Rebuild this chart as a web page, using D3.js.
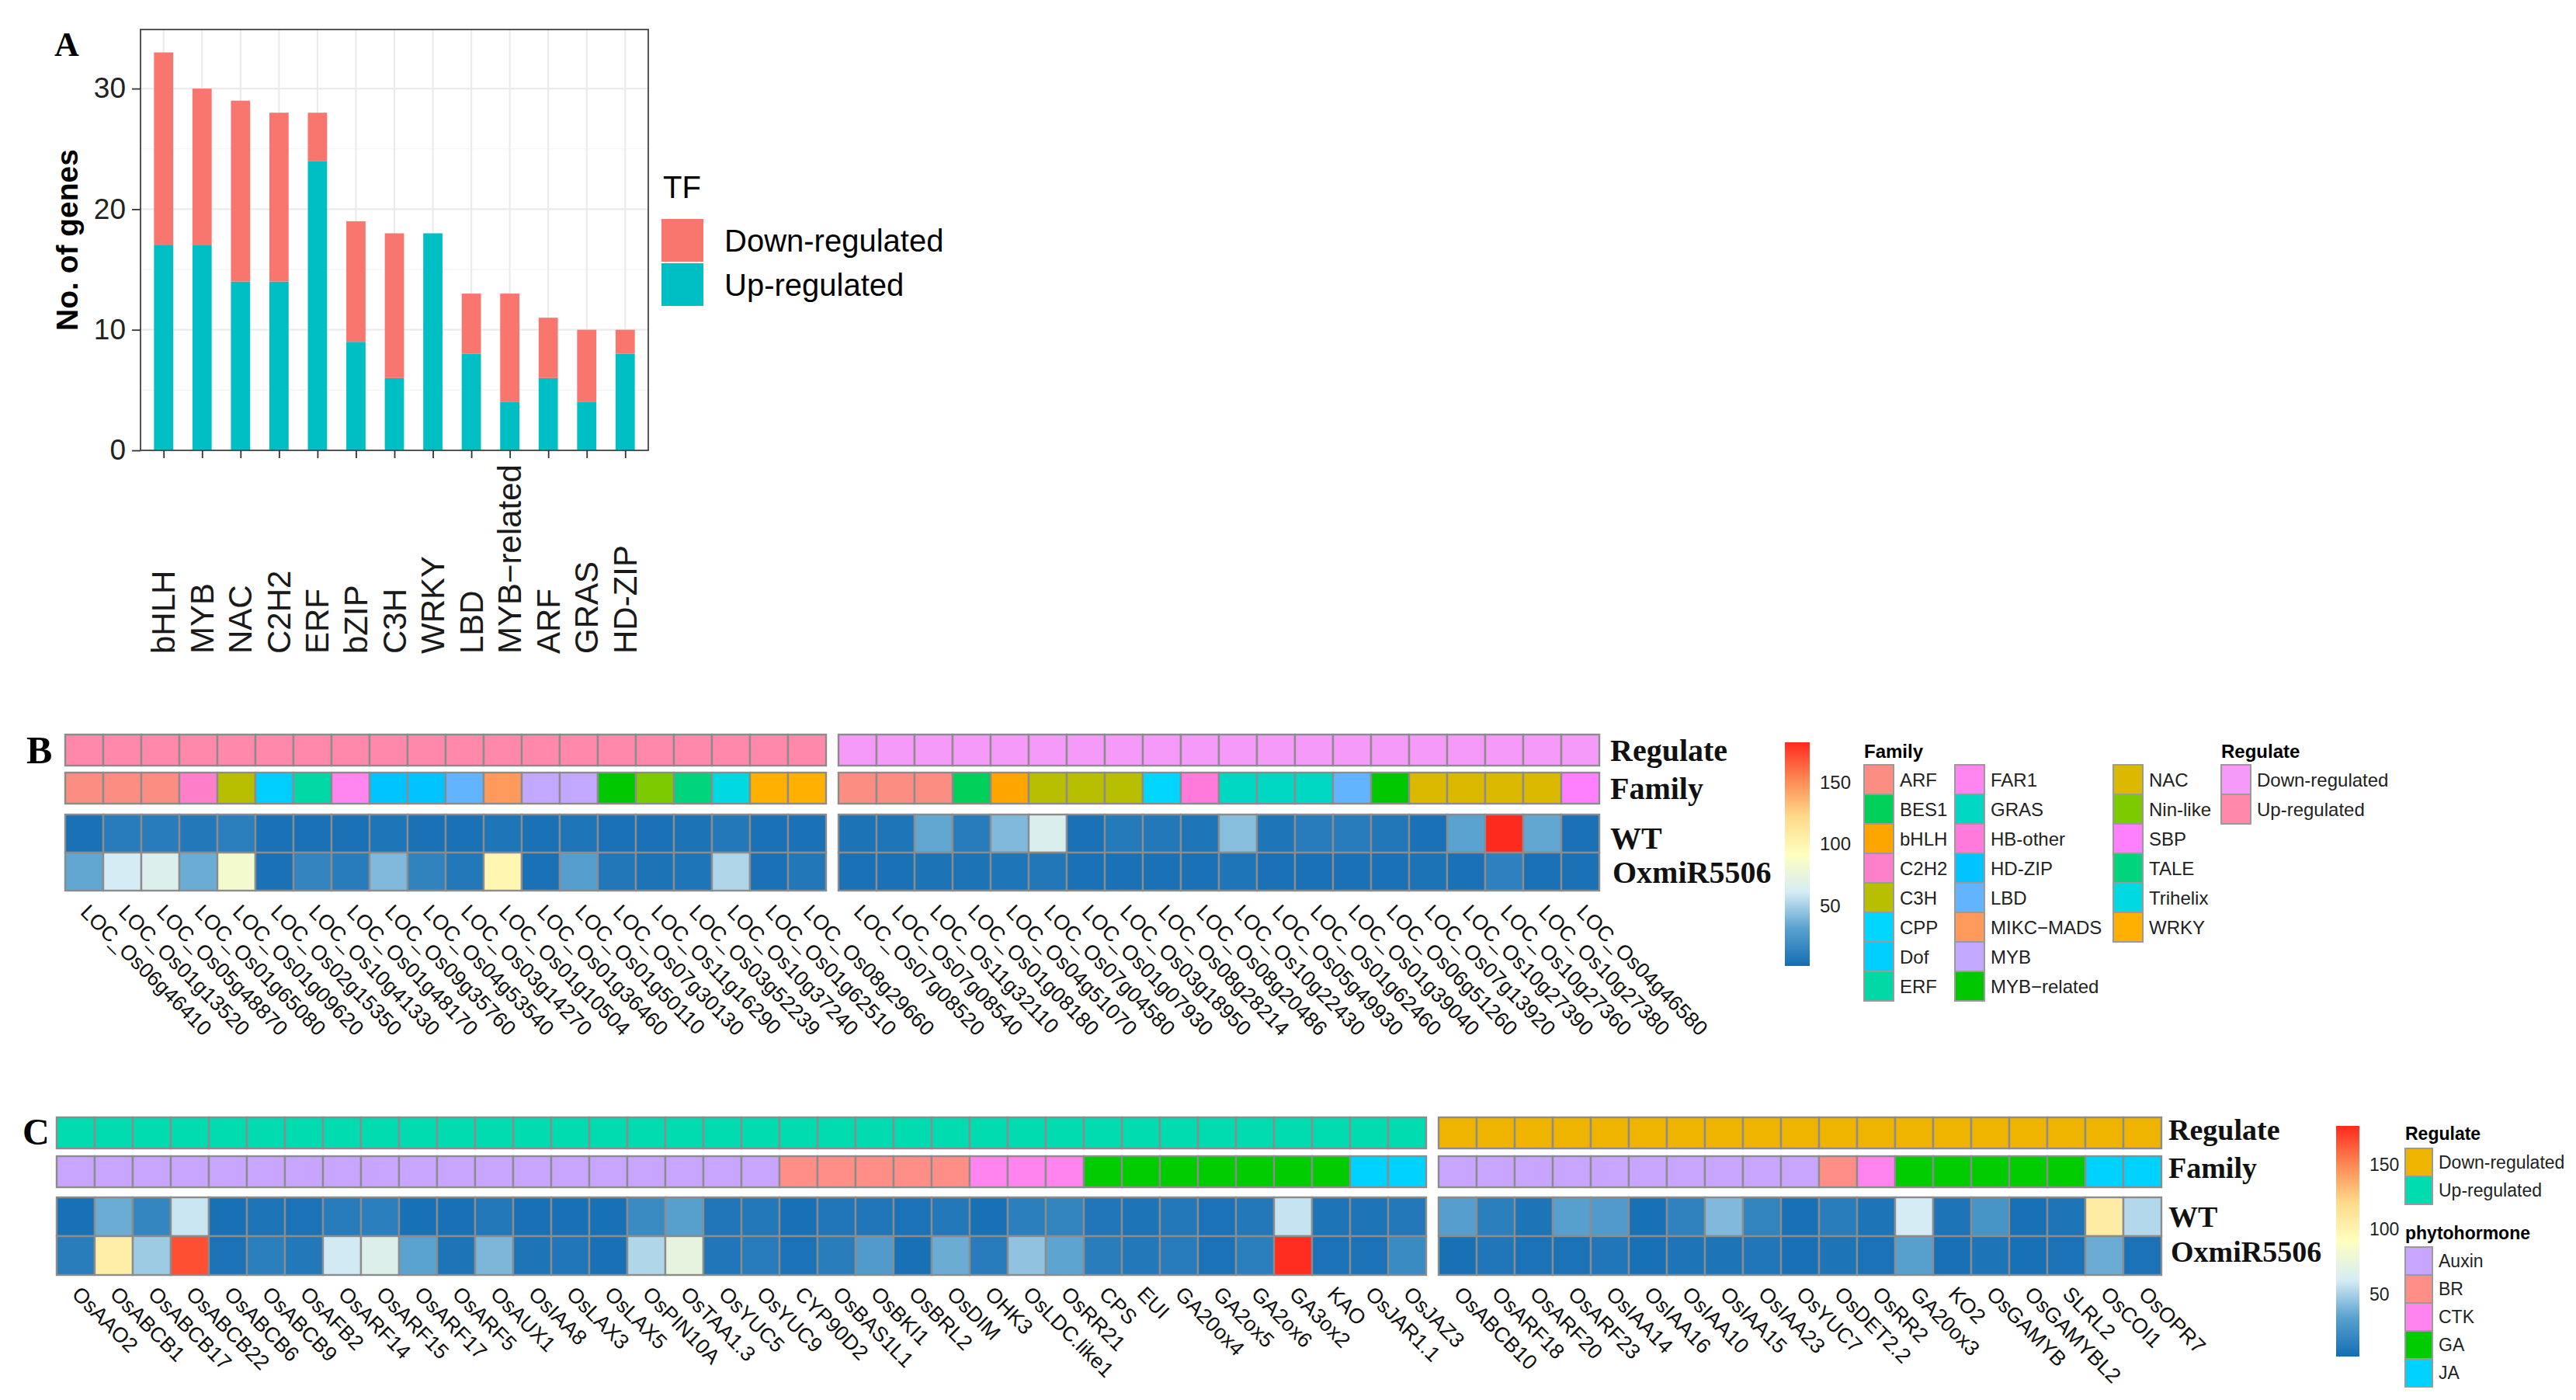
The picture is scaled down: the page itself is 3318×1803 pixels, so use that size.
<!DOCTYPE html>
<html><head><meta charset="utf-8">
<script src="https://cdn.jsdelivr.net/npm/d3@7/dist/d3.min.js"></script>
<style>body{margin:0;background:#fff}svg{display:block}</style>
</head><body>
<svg id="fig" width="3318" height="1803"></svg>
<script>
// ---------------- DATA ----------------
// Panel A
const tfFamilies = ["bHLH","MYB","NAC","C2H2","ERF","bZIP","C3H","WRKY","LBD","MYB\u2212related","ARF","GRAS","HD-ZIP"];
const upCounts   = [17,17,14,14,24,9,6,18,8,4,6,4,8];
const downCounts = [16,13,15,14,4,10,12,0,5,9,5,6,2];
const aYTicks = [0,10,20,30];
const aMinorTicks = [5,15,25];
const tfKeys = ["Down-regulated","Up-regulated"];

// Panel B
const bGenesUp = ["LOC_Os06g46410","LOC_Os01g13520","LOC_Os05g48870","LOC_Os01g65080","LOC_Os01g09620","LOC_Os02g15350","LOC_Os10g41330","LOC_Os01g48170","LOC_Os09g35760","LOC_Os04g53540","LOC_Os03g14270","LOC_Os01g10504","LOC_Os01g36460","LOC_Os01g50110","LOC_Os07g30130","LOC_Os11g16290","LOC_Os03g52239","LOC_Os10g37240","LOC_Os01g62510","LOC_Os08g29660"];
const bGenesDown = ["LOC_Os07g08520","LOC_Os07g08540","LOC_Os11g32110","LOC_Os01g08180","LOC_Os04g51070","LOC_Os07g04580","LOC_Os01g07930","LOC_Os03g18950","LOC_Os08g28214","LOC_Os08g20486","LOC_Os10g22430","LOC_Os05g49930","LOC_Os01g62460","LOC_Os01g39040","LOC_Os06g51260","LOC_Os07g13920","LOC_Os10g27390","LOC_Os10g27360","LOC_Os10g27380","LOC_Os04g46580"];
const bFamilyUp = ["ARF","ARF","ARF","C2H2","C3H","Dof","ERF","FAR1","HD-ZIP","HD-ZIP","LBD","MIKC\u2212MADS","MYB","MYB","MYB\u2212related","Nin-like","TALE","Trihelix","WRKY","WRKY"];
const bFamilyDown = ["ARF","ARF","ARF","BES1","bHLH","C3H","C3H","C3H","CPP","HB-other","GRAS","GRAS","GRAS","LBD","MYB\u2212related","NAC","NAC","NAC","NAC","SBP"];
const bWTUp   = [4,10,10,8,12,4,4,4,6,4,4,6,4,6,4,4,5,8,4,4];
const bOxUp   = [34,61,66,36,83,4,15,10,41,14,8,99,4,30,7,5,6,52,4,7];
const bWTDown = [5,6,34,10,41,65,4,9,8,6,43,6,10,10,7,4,32,182,34,4];
const bOxDown = [4,4,5,5,6,7,4,4,4,4,6,4,4,4,4,5,4,13,4,4];
const bFamilyLevels = ["ARF","BES1","bHLH","C2H2","C3H","CPP","Dof","ERF","FAR1","GRAS","HB-other","HD-ZIP","LBD","MIKC\u2212MADS","MYB","MYB\u2212related","NAC","Nin-like","SBP","TALE","Trihelix","WRKY"];
const regulateLevels = ["Down-regulated","Up-regulated"];
const bScaleRange = [1.4,182];
const heatTicks = [50,100,150];
const sampleNames = ["WT","OxmiR5506"];

// Panel C
const cGenesUp = ["OsAAO2","OsABCB1","OsABCB17","OsABCB22","OsABCB6","OsABCB9","OsAFB2","OsARF14","OsARF15","OsARF17","OsARF5","OsAUX1","OsIAA8","OsLAX3","OsLAX5","OsPIN10A","OsTAA1.3","OsYUC5","OsYUC9","CYP90D2","OsBAS1L1","OsBKI1","OsBRL2","OsDIM","OHK3","OsLDC.like1","OsRR21","CPS","EUI","GA20ox4","GA2ox5","GA2ox6","GA3ox2","KAO","OsJAR1.1","OsJAZ3"];
const cHormoneUp = ["Auxin","Auxin","Auxin","Auxin","Auxin","Auxin","Auxin","Auxin","Auxin","Auxin","Auxin","Auxin","Auxin","Auxin","Auxin","Auxin","Auxin","Auxin","Auxin","BR","BR","BR","BR","BR","CTK","CTK","CTK","GA","GA","GA","GA","GA","GA","GA","JA","JA"];
const cWTUp = [4,36,16,58,4,6,5,10,12,4,4,8,4,4,4,19,31,7,8,4,7,7,5,8,4,12,15,7,6,8,5,8,57,6,6,8];
const cOxUp = [11,104,48,168,5,12,8,60,66,32,6,40,6,7,4,52,73,7,10,5,11,28,4,36,10,45,33,11,8,10,5,12,179,5,5,19];
const cGenesDown = ["OsABCB10","OsARF18","OsARF20","OsARF23","OsIAA14","OsIAA16","OsIAA10","OsIAA15","OsIAA23","OsYUC7","OsDET2.2","OsRR2","GA20ox3","KO2","OsGAMYB","OsGAMYBL2","SLRL2","OsCOI1","OsOPR7"];
const cHormoneDown = ["Auxin","Auxin","Auxin","Auxin","Auxin","Auxin","Auxin","Auxin","Auxin","Auxin","BR","CTK","GA","GA","GA","GA","GA","JA","JA"];
const cWTDown = [30,12,6,31,28,4,14,41,15,4,11,6,61,6,24,4,6,106,53];
const cOxDown = [4,7,5,5,7,4,6,6,7,4,6,5,31,4,6,4,5,36,5];
const hormoneLevels = ["Auxin","BR","CTK","GA","JA"];
const cScaleRange = [2,179.6];

// ---------------- STYLE ----------------
const SANS = "'Liberation Sans', Arial, Helvetica, sans-serif";
const SERIF = "'Liberation Serif', 'Times New Roman', serif";
const tfColors = {"Down-regulated":"#F8766D","Up-regulated":"#00BFC4"};
const familyColors = {"ARF":"#FC8D83","BES1":"#00CF5A","bHLH":"#FFA500","C2H2":"#FF7FCB","C3H":"#B8BF00","CPP":"#00D6FF","Dof":"#00CEFF","ERF":"#00D9A5","FAR1":"#FF86F0","GRAS":"#00D8C4","HB-other":"#FF7ADA","HD-ZIP":"#00C4FF","LBD":"#62B4FF","MIKC\u2212MADS":"#FF9A5C","MYB":"#C3A8FF","MYB\u2212related":"#00C800","NAC":"#DBB900","Nin-like":"#7CCB00","SBP":"#FF80FF","TALE":"#00D47C","Trihelix":"#00D8E2","WRKY":"#FFB000"};
const bRegColors = {"Down-regulated":"#F59AF9","Up-regulated":"#FF88AB"};
const cRegColors = {"Down-regulated":"#EEB400","Up-regulated":"#00DCB0"};
const hormoneColors = {"Auxin":"#C8A6FF","BR":"#FF8E86","CTK":"#FF84F0","GA":"#00CC00","JA":"#00D2FF"};
const heatStopsT = [0,0.17,0.33,0.5,0.67,0.83,1];
const heatStopsC = ["#146DB3","#5AA2CF","#D5ECF5","#FFFFBF","#FED98A","#FC8A55","#FF2A1E"];
const CELL_STROKE = "#8c8c8c";

const svg = d3.select("#fig");
svg.append("rect").attr("width",3318).attr("height",1803).attr("fill","#fff");
const defs = svg.append("defs");

// ---------------- PANEL A ----------------
(function(){
  const P = {x0:181,x1:835,y0:38,y1:580};
  const g = svg.append("g");
  const x = d3.scalePoint().domain(tfFamilies).range([P.x0,P.x1]).padding(0.6);
  const y = d3.scaleLinear().domain([0,34.9]).range([P.y1,P.y0]);
  const bw = x.step()*0.5;
  // grid
  g.selectAll(".gmin").data(aMinorTicks).join("line")
    .attr("x1",P.x0).attr("x2",P.x1).attr("y1",d=>y(d)).attr("y2",d=>y(d))
    .attr("stroke","#f3f3f3").attr("stroke-width",1.2);
  g.selectAll(".gmaj").data(aYTicks).join("line")
    .attr("x1",P.x0).attr("x2",P.x1).attr("y1",d=>y(d)).attr("y2",d=>y(d))
    .attr("stroke","#ebebeb").attr("stroke-width",2.2);
  g.selectAll(".gv").data(tfFamilies).join("line")
    .attr("x1",d=>x(d)).attr("x2",d=>x(d)).attr("y1",P.y0).attr("y2",P.y1)
    .attr("stroke","#ebebeb").attr("stroke-width",2.2);
  // bars
  const rows = tfFamilies.map((f,i)=>({family:f,"Up-regulated":upCounts[i],"Down-regulated":downCounts[i]}));
  const stacked = d3.stack().keys(["Up-regulated","Down-regulated"])(rows);
  g.selectAll(".layer").data(stacked).join("g").attr("fill",d=>tfColors[d.key])
    .selectAll("rect").data(d=>d).join("rect")
    .attr("x",d=>x(d.data.family)-bw/2).attr("width",bw)
    .attr("y",d=>y(d[1])).attr("height",d=>y(d[0])-y(d[1]));
  // border
  g.append("rect").attr("x",P.x0).attr("y",P.y0).attr("width",P.x1-P.x0).attr("height",P.y1-P.y0)
    .attr("fill","none").attr("stroke","#444").attr("stroke-width",1.8);
  // axes
  const ay = g.append("g").attr("transform",`translate(${P.x0},0)`)
    .call(d3.axisLeft(y).tickValues(aYTicks).tickSize(11).tickSizeOuter(0).tickPadding(8));
  ay.select(".domain").remove();
  ay.selectAll("line").attr("stroke","#333").attr("stroke-width",1.8);
  ay.selectAll("text").attr("font-family",SANS).attr("font-size",37).attr("fill","#222");
  const ax = g.append("g").attr("transform",`translate(0,${P.y1})`)
    .call(d3.axisBottom(x).tickSize(10).tickSizeOuter(0).tickFormat(""));
  ax.select(".domain").remove();
  ax.selectAll("line").attr("stroke","#333").attr("stroke-width",1.8);
  g.selectAll(".xl").data(tfFamilies).join("text")
    .attr("transform",d=>`translate(${x(d)},842) rotate(-90)`)
    .attr("text-anchor","start").attr("dominant-baseline","central")
    .attr("font-family",SANS).attr("font-size",42).attr("fill","#1a1a1a").text(d=>d);
  g.append("text").attr("transform",`translate(86,${(P.y0+P.y1)/2}) rotate(-90)`)
    .attr("text-anchor","middle").attr("dominant-baseline","central")
    .attr("font-family",SANS).attr("font-weight","bold").attr("font-size",39).text("No. of genes");
  // legend
  g.append("text").attr("x",854).attr("y",255).attr("font-family",SANS).attr("font-size",40).text("TF");
  const lg = g.selectAll(".lk").data(tfKeys).join("g").attr("transform",(d,i)=>`translate(852,${282+i*57})`);
  lg.append("rect").attr("width",54).attr("height",55).attr("fill",d=>tfColors[d]);
  lg.append("text").attr("x",81).attr("y",28).attr("dominant-baseline","central")
    .attr("font-family",SANS).attr("font-size",40).text(d=>d);
  // panel letter
  svg.append("text").attr("x",70).attr("y",72).attr("font-family",SERIF).attr("font-weight","bold").attr("font-size",44).text("A");
})();

// ---------------- HEATMAP HELPERS ----------------
function heatColor(range){
  return d3.scaleLinear().domain(heatStopsT.map(t=>range[0]+t*(range[1]-range[0])))
    .range(heatStopsC).interpolate(d3.interpolateRgb).clamp(true);
}
function drawBlock(g, o){
  const n = o.genes.length;
  const xb = d3.scaleBand().domain(d3.range(n)).range([o.x0, o.x0 + n*o.cellW]);
  const col = heatColor(o.range);
  // annotation tracks
  o.tracks.forEach(t=>{
    g.append("g").selectAll("rect").data(t.values).join("rect")
      .attr("x",(d,i)=>xb(i)).attr("y",t.y).attr("width",xb.bandwidth()).attr("height",t.h)
      .attr("fill",d=>t.colors[d]).attr("stroke",CELL_STROKE).attr("stroke-width",2.4);
  });
  // heat rows
  const yr = d3.scaleBand().domain(sampleNames).range([o.heatY, o.heatY + 2*o.rowH]);
  const cells = [];
  o.values.forEach((vals,r)=>vals.forEach((v,i)=>cells.push({r:sampleNames[r],i,v})));
  g.append("g").selectAll("rect").data(cells).join("rect")
    .attr("x",d=>xb(d.i)).attr("y",d=>yr(d.r)).attr("width",xb.bandwidth()).attr("height",yr.bandwidth())
    .attr("fill",d=>col(d.v)).attr("stroke",CELL_STROKE).attr("stroke-width",2.4);
  // gene labels
  const ly = o.heatY + 2*o.rowH + o.labelOff;
  g.append("g").selectAll("text").data(o.genes).join("text")
    .attr("transform",(d,i)=>`translate(${xb(i)+xb.bandwidth()/2},${ly}) rotate(45)`)
    .attr("text-anchor","start").attr("dominant-baseline","central")
    .attr("font-family",SANS).attr("font-size",o.labelSize).attr("fill","#111").text(d=>d);
}
function colorBar(g, o){
  const id = "grad"+o.id;
  const gr = defs.append("linearGradient").attr("id",id).attr("x1",0).attr("x2",0).attr("y1",1).attr("y2",0);
  heatStopsT.forEach((t,i)=>gr.append("stop").attr("offset",t).attr("stop-color",heatStopsC[i]));
  g.append("rect").attr("x",o.x).attr("y",o.y).attr("width",o.w).attr("height",o.h).attr("fill",`url(#${id})`);
  const s = d3.scaleLinear().domain(o.range).range([o.y+o.h,o.y]);
  g.selectAll(".ct"+o.id).data(heatTicks).join("text")
    .attr("x",o.lx).attr("y",d=>s(d)).attr("dominant-baseline","central")
    .attr("font-family",SANS).attr("font-size",o.fs).attr("fill","#222").text(d=>d);
}
function legendCol(g, o){
  const r = g.append("g").selectAll("g").data(o.items).join("g")
    .attr("transform",(d,i)=>`translate(${o.x},${o.y+i*o.step})`);
  r.append("rect").attr("width",o.w).attr("height",o.step).attr("fill",d=>o.colors[d])
    .attr("stroke","#9a9a9a").attr("stroke-width",2);
  r.append("text").attr("x",o.w+8).attr("y",o.step/2).attr("dominant-baseline","central")
    .attr("font-family",SANS).attr("font-size",o.fs).attr("fill","#222").text(d=>d);
}
function rowLabels(g, x, ys, fs){
  const labels = ["Regulate","Family","WT","OxmiR5506"];
  g.selectAll(".rl"+x).data(labels).join("text")
    .attr("x",(d,i)=>i===3?x+3:x).attr("y",(d,i)=>ys[i])
    .attr("font-family",SERIF).attr("font-weight","bold").attr("font-size",fs).attr("fill","#111").text(d=>d);
}

// ---------------- PANEL B ----------------
(function(){
  const g = svg.append("g");
  const common = {cellW:49, heatY:1049, rowH:49, range:bScaleRange, labelOff:23, labelSize:27};
  drawBlock(g, Object.assign({}, common, {x0:84, genes:bGenesUp, values:[bWTUp,bOxUp],
    tracks:[{y:946,h:40,values:bGenesUp.map(()=>"Up-regulated"),colors:bRegColors},{y:995,h:40,values:bFamilyUp,colors:familyColors}]}));
  drawBlock(g, Object.assign({}, common, {x0:1080, genes:bGenesDown, values:[bWTDown,bOxDown],
    tracks:[{y:946,h:40,values:bGenesDown.map(()=>"Down-regulated"),colors:bRegColors},{y:995,h:40,values:bFamilyDown,colors:familyColors}]}));
  rowLabels(g, 2074, [980,1029,1093,1137], 40);
  colorBar(g, {id:"B", x:2299, y:956, w:32, h:288, range:bScaleRange, lx:2344, fs:24});
  const tf = {font:SANS};
  g.append("text").attr("x",2401).attr("y",976).attr("font-family",SANS).attr("font-weight","bold").attr("font-size",24).text("Family");
  legendCol(g, {x:2401,y:985,w:38,step:38,fs:24,items:bFamilyLevels.slice(0,8),colors:familyColors});
  legendCol(g, {x:2518,y:985,w:38,step:38,fs:24,items:bFamilyLevels.slice(8,16),colors:familyColors});
  legendCol(g, {x:2722,y:985,w:38,step:38,fs:24,items:bFamilyLevels.slice(16),colors:familyColors});
  g.append("text").attr("x",2861).attr("y",976).attr("font-family",SANS).attr("font-weight","bold").attr("font-size",24).text("Regulate");
  legendCol(g, {x:2861,y:985,w:38,step:38,fs:24,items:regulateLevels,colors:bRegColors});
  svg.append("text").attr("x",34).attr("y",983).attr("font-family",SERIF).attr("font-weight","bold").attr("font-size",50).text("B");
})();

// ---------------- PANEL C ----------------
(function(){
  const g = svg.append("g");
  const common = {cellW:49, heatY:1542, rowH:50, range:cScaleRange, labelOff:20, labelSize:27};
  drawBlock(g, Object.assign({}, common, {x0:73, genes:cGenesUp, values:[cWTUp,cOxUp],
    tracks:[{y:1439,h:40,values:cGenesUp.map(()=>"Up-regulated"),colors:cRegColors},{y:1489,h:40,values:cHormoneUp,colors:hormoneColors}]}));
  drawBlock(g, Object.assign({}, common, {x0:1853, genes:cGenesDown, values:[cWTDown,cOxDown],
    tracks:[{y:1439,h:40,values:cGenesDown.map(()=>"Down-regulated"),colors:cRegColors},{y:1489,h:40,values:cHormoneDown,colors:hormoneColors}]}));
  rowLabels(g, 2793, [1468,1517,1580,1625], 38);
  colorBar(g, {id:"C", x:3009, y:1450, w:30, h:297, range:cScaleRange, lx:3052, fs:23});
  g.append("text").attr("x",3098).attr("y",1468).attr("font-family",SANS).attr("font-weight","bold").attr("font-size",23).text("Regulate");
  legendCol(g, {x:3098,y:1479,w:35,step:36,fs:23,items:regulateLevels,colors:cRegColors});
  g.append("text").attr("x",3098).attr("y",1596).attr("font-family",SANS).attr("font-weight","bold").attr("font-size",23).text("phytohormone");
  legendCol(g, {x:3098,y:1606,w:35,step:36,fs:23,items:hormoneLevels,colors:hormoneColors});
  svg.append("text").attr("x",29).attr("y",1474).attr("font-family",SERIF).attr("font-weight","bold").attr("font-size",48).text("C");
})();
</script>
</body></html>
